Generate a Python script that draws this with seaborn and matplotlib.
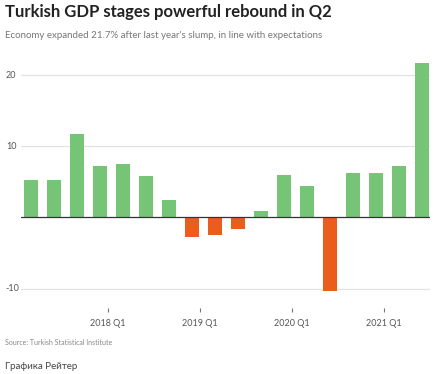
import numpy as np
import pandas as pd
import matplotlib
matplotlib.use("Agg")
import matplotlib.pyplot as plt
import seaborn as sns

# quarterly GDP growth, % y/y, 2017 Q1 .. 2021 Q2
quarters = ["2017 Q1", "2017 Q2", "2017 Q3", "2017 Q4",
            "2018 Q1", "2018 Q2", "2018 Q3", "2018 Q4",
            "2019 Q1", "2019 Q2", "2019 Q3", "2019 Q4",
            "2020 Q1", "2020 Q2", "2020 Q3", "2020 Q4",
            "2021 Q1", "2021 Q2"]
growth = [5.3, 5.3, 11.8, 7.3, 7.5, 5.8, 2.4, -2.7, -2.4, -1.6,
          0.9, 6.0, 4.4, -10.3, 6.3, 6.2, 7.2, 21.7]
tick_labels = ["2018 Q1", "2019 Q1", "2020 Q1", "2021 Q1"]
y_ticks = [-10, 10, 20]

df = pd.DataFrame({"quarter": quarters, "growth": growth})
df["sign"] = np.where(df["growth"] >= 0, "pos", "neg")

sns.set_theme(style="white")
plt.rcParams["font.family"] = ["Lato", "DejaVu Sans"]

fig = plt.figure(figsize=(4.39, 3.74), dpi=100)
ax = fig.add_axes([0.048, 0.198, 0.932, 0.637])

sns.barplot(data=df, x="quarter", y="growth", hue="sign",
            palette={"pos": "#76c576", "neg": "#ea5d1c"},
            dodge=False, width=0.63, legend=False, ax=ax,
            linewidth=0, saturation=1)

sns.despine(ax=ax, left=True, bottom=True)
ax.spines["bottom"].set_position(("outward", 6))

ax.set_ylim(-11.6, 21.9)
ax.set_xlim(-0.43, len(quarters) - 0.65)
for y in y_ticks:
    ax.axhline(y, color="#e3e3e3", lw=0.9, zorder=0)
ax.axhline(0, color="#333333", lw=0.9, zorder=3)

ax.set_yticks(y_ticks)
ax.set_yticklabels([str(v) for v in y_ticks], fontsize=6.5, color="#555555")
ax.tick_params(axis="y", length=0, pad=1)
for lbl in ax.get_yticklabels():
    lbl.set_horizontalalignment("left")
    lbl.set_x(-0.034)
    lbl.set_verticalalignment("center")

# year ticks sit just after each Q4 bar
pos = [quarters.index(t) - 0.67 for t in tick_labels]
ax.set_xticks(pos)
ax.set_xticklabels(tick_labels, fontsize=6.5, color="#555555")
ax.tick_params(axis="x", length=3, width=0.8, color="#777777", pad=5,
               direction="out", bottom=True)
ax.set_xlabel("")
ax.set_ylabel("")

fig.text(0.011, 0.967, "Turkish GDP stages powerful rebound in Q2",
         fontsize=12, fontweight="bold", color="#222222", va="center")
fig.text(0.011, 0.905,
         "Economy expanded 21.7% after last year's slump, in line with expectations",
         fontsize=7, color="#777777", va="center")
fig.text(0.011, 0.083, "Source: Turkish Statistical Institute",
         fontsize=5, color="#888888", va="center")
fig.text(0.011, 0.021, "Графика Рейтер", fontsize=7, color="#444444",
         va="center")

fig.savefig("out.png", dpi=100)
